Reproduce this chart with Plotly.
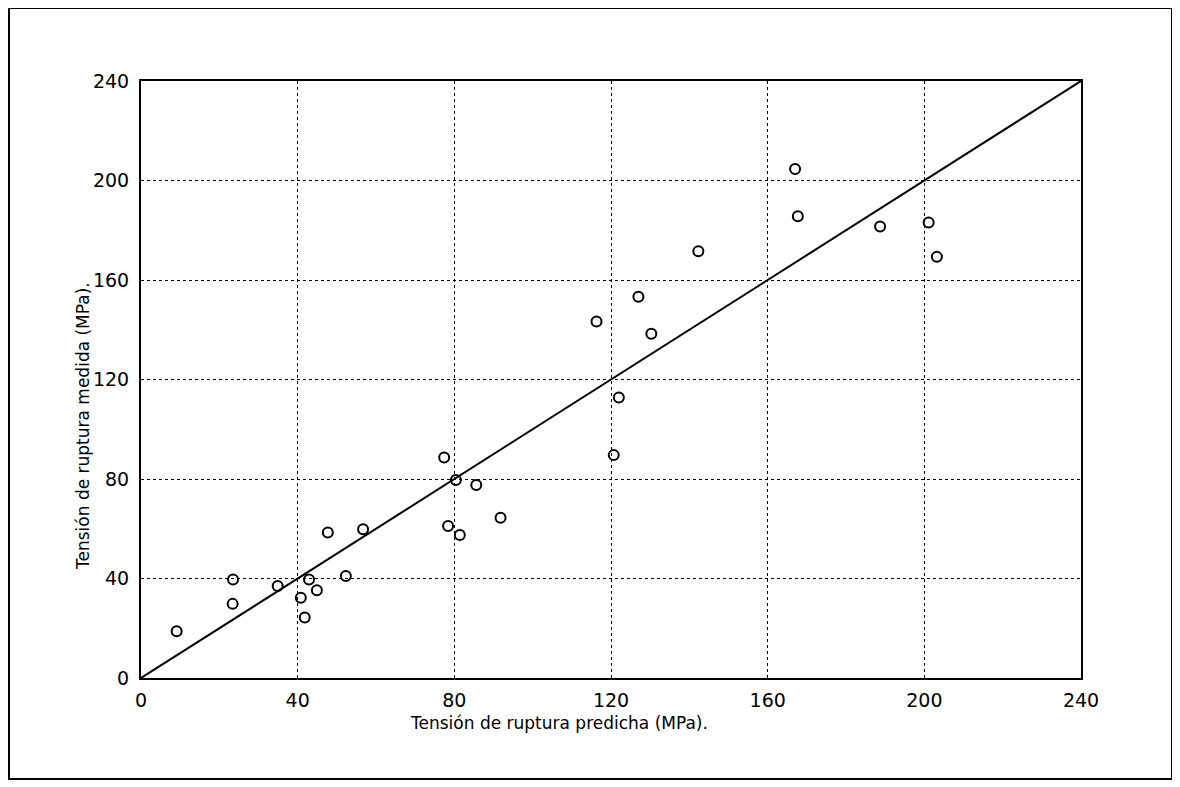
import plotly.graph_objects as go

# Data
tension_predicha = [9.1, 23.5, 23.4, 34.9, 40.8, 41.8, 42.9, 44.9, 47.7, 52.3, 56.7,
                    77.4, 78.4, 80.4, 81.4, 85.6, 91.8, 116.3, 120.7, 122.0, 127.0,
                    130.3, 142.3, 167.0, 167.7, 188.7, 201.1, 203.2]
tension_medida = [18.8, 39.6, 29.8, 37.0, 32.3, 24.3, 39.6, 35.3, 58.5, 41.0, 59.8,
                  88.6, 61.1, 79.6, 57.5, 77.6, 64.4, 143.3, 89.6, 112.8, 153.3,
                  138.4, 171.6, 204.6, 185.6, 181.5, 183.1, 169.3]
linea_x = [0, 240]
linea_y = [0, 240]
tick_vals = [0, 40, 80, 120, 160, 200, 240]
tick_text = ["0", "40", "80", "120", "160", "200", "240"]

x_title = "Tensión de ruptura predicha (MPa)."
y_title = "Tensión de ruptura medida (MPa)."

FONT = "DejaVu Sans, Verdana, sans-serif"

# The page places the figure 8 px in from the window's corner
OFF = 8
W, H = 1172, 779
L, R, T, B = 141 - OFF, 1081 - OFF, 81 - OFF, 678 - OFF
pw, ph = R - L, B - T


def px(xp):
    return (xp - OFF - L) / pw


def py(yp):
    return (B - (yp - OFF)) / ph


fig = go.Figure()

fig.add_trace(go.Scatter(
    x=linea_x, y=linea_y, mode="lines",
    line=dict(color="black", width=2),
    showlegend=False, hoverinfo="skip",
))

fig.add_trace(go.Scatter(
    x=tension_predicha, y=tension_medida, mode="markers",
    marker=dict(symbol="circle-open", size=10, color="black",
                line=dict(color="black", width=2)),
    showlegend=False,
))

axis_common = dict(
    range=[0, 240],
    tickmode="array",
    tickvals=tick_vals,
    ticktext=tick_text,
    showgrid=True,
    gridcolor="black",
    gridwidth=1.3,
    griddash="dot",
    showline=True,
    linecolor="black",
    linewidth=2,
    mirror=True,
    ticks="",
    zeroline=False,
    tickfont=dict(family=FONT, size=19, color="black"),
)

fig.update_xaxes(**axis_common, ticklabelstandoff=4)
fig.update_yaxes(**axis_common, ticklabelstandoff=6)

fig.update_layout(
    width=W, height=H,
    margin=dict(l=L, r=W - R, t=T, b=H - B, autoexpand=False),
    plot_bgcolor="white",
    paper_bgcolor="white",
    font=dict(family=FONT, color="black"),
    annotations=[
        dict(text=x_title, xref="paper", yref="paper",
             x=px(559), y=py(723), showarrow=False,
             xanchor="center", yanchor="middle",
             font=dict(family=FONT, size=17, color="black")),
        dict(text=y_title, xref="paper", yref="paper",
             x=px(83), y=py(426), showarrow=False, textangle=-90,
             xanchor="center", yanchor="middle",
             font=dict(family=FONT, size=17, color="black")),
    ],
    shapes=[
        dict(type="rect", xref="paper", yref="paper",
             x0=px(9), x1=px(1172), y0=py(779), y1=py(8),
             line=dict(color="black", width=2), fillcolor="rgba(0,0,0,0)",
             layer="below"),
    ],
)

fig.write_html("out.html")
